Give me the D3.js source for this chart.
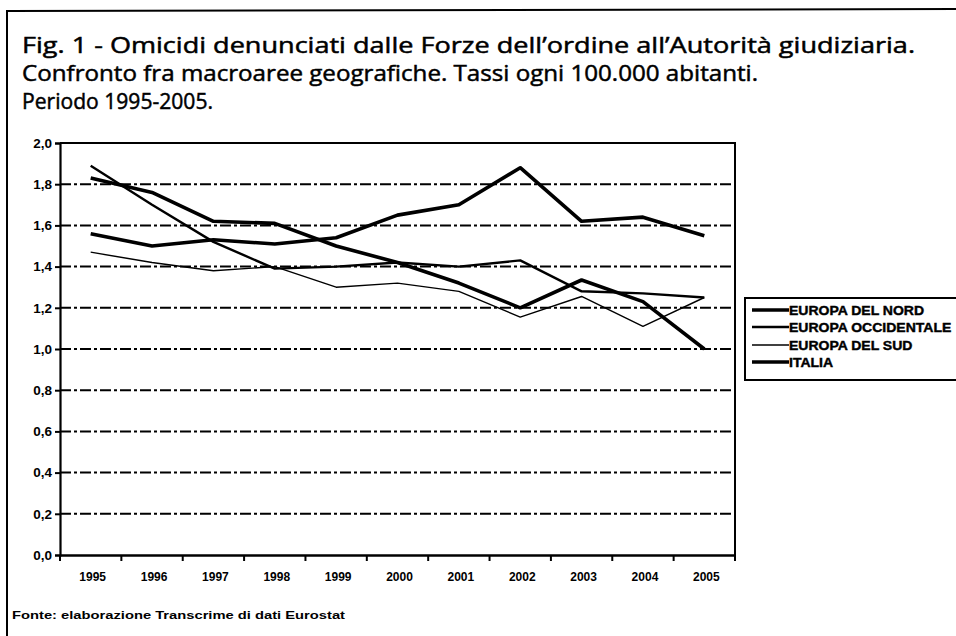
<!DOCTYPE html>
<html><head><meta charset="utf-8">
<script src="https://cdn.jsdelivr.net/npm/d3@7"></script>
<style>
html,body{margin:0;padding:0;background:#fff;}
svg{display:block;}
</style></head>
<body>
<svg id="c" width="956" height="636"></svg>
<script>
const titleLines = [
  "Fig. 1 - Omicidi denunciati dalle Forze dell\u2019ordine all\u2019Autorità giudiziaria.",
  "Confronto fra macroaree geografiche. Tassi ogni 100.000 abitanti.",
  "Periodo 1995-2005."
];
const sourceText = "Fonte: elaborazione Transcrime di dati Eurostat";
const years = ["1995","1996","1997","1998","1999","2000","2001","2002","2003","2004","2005"];
const yTicks = [0,0.2,0.4,0.6,0.8,1.0,1.2,1.4,1.6,1.8,2.0];
const seriesNames = ["EUROPA DEL NORD","EUROPA OCCIDENTALE","EUROPA DEL SUD","ITALIA"];
const nord        = [1.56,1.50,1.53,1.51,1.54,1.65,1.70,1.88,1.62,1.64,1.55];
const occidentale = [1.89,1.70,1.52,1.39,1.40,1.42,1.40,1.43,1.28,1.27,1.25];
const sud         = [1.47,1.42,1.38,1.40,1.30,1.32,1.28,1.155,1.255,1.11,1.25];
const italia      = [1.83,1.76,1.62,1.61,1.50,1.42,1.32,1.20,1.335,1.23,1.00];
const seriesValues = [nord, occidentale, sud, italia];
const seriesWidths = [3.6, 2.4, 1.4, 3.6];

const svg = d3.select("#c");
const font = "'Open Sans', 'Noto Sans', sans-serif";
const boldFont = "'Liberation Sans', Arial, sans-serif";

// outer frame (scan border)
svg.append("path").attr("d","M7,636 L7,11 L956,9").attr("fill","none")
  .attr("stroke","#000").attr("stroke-width",2);

// title
const tW = [893, 736, 191];
titleLines.forEach((t,i)=>{
  svg.append("text").attr("x",22).attr("y",53+i*28)
    .attr("font-family",font).attr("font-size",22.5).attr("fill","#000")
    .attr("stroke","#000").attr("stroke-width",0.5)
    .attr("textLength",tW[i]).attr("lengthAdjust","spacingAndGlyphs")
    .text(t);
});

const pL=60, pR=735, pT=143, pB=555;
const x = d3.scaleBand().domain(years).range([pL,pR]).padding(0);
const y = d3.scaleLinear().domain([0,2]).range([pB,pT]);
const cx = d => x(d)+x.bandwidth()/2;

// grid lines
svg.append("g").selectAll("line").data(yTicks.filter(v=>v>0 && v<2)).join("line")
  .attr("x1",pL).attr("x2",pR).attr("y1",d=>y(d)).attr("y2",d=>y(d))
  .attr("stroke","#000").attr("stroke-width",2).attr("stroke-dasharray","11,3,3,3");

// plot frame top and right
svg.append("path").attr("d",`M${pL},${pT} L${pR},${pT} L${pR},${pB}`)
  .attr("fill","none").attr("stroke","#000").attr("stroke-width",2);

// y axis
const yAxis = d3.axisLeft(y).tickValues(yTicks).tickSize(5).tickPadding(3)
  .tickFormat(d=>d3.format(".1f")(d).replace(".",","));
const gy = svg.append("g").attr("transform",`translate(${pL},0)`).call(yAxis);
gy.select(".domain").attr("stroke","#000").attr("stroke-width",2.2);
gy.selectAll(".tick line").attr("stroke","#000").attr("stroke-width",2);
gy.selectAll(".tick text").attr("font-family",boldFont)
  .attr("font-weight","bold").attr("font-size",13.5).attr("fill","#000");

// x axis
const xAxis = d3.axisBottom(x).tickSize(0).tickPadding(17);
const gx = svg.append("g").attr("transform",`translate(0,${pB})`).call(xAxis);
gx.select(".domain").attr("stroke","#000").attr("stroke-width",2.6);
gx.selectAll(".tick text").attr("font-family",boldFont)
  .attr("font-weight","bold").attr("font-size",12).attr("fill","#000")
  .attr("dx",2);
// boundary ticks
const bounds = years.map(d=>x(d)).concat([pR]);
svg.append("g").selectAll("line").data(bounds).join("line")
  .attr("x1",d=>d).attr("x2",d=>d).attr("y1",pB).attr("y2",pB+6)
  .attr("stroke","#000").attr("stroke-width",2);

// lines
const line = d3.line().x((d,i)=>cx(years[i])).y(d=>y(d));
seriesValues.forEach((vals,k)=>{
  svg.append("path").datum(vals).attr("d",line).attr("fill","none")
    .attr("stroke","#000").attr("stroke-width",seriesWidths[k])
    .attr("stroke-linejoin","round").attr("stroke-linecap","butt");
});

// legend
const lg = svg.append("g");
lg.append("path").attr("d","M956,298 L745,298 L745,380 L956,380").attr("fill","none")
  .attr("stroke","#000").attr("stroke-width",2);
const lys = [310,327,345,362];
seriesNames.forEach((n,k)=>{
  lg.append("line").attr("x1",752).attr("x2",789).attr("y1",lys[k]).attr("y2",lys[k])
    .attr("stroke","#000").attr("stroke-width",seriesWidths[k]);
  const t = lg.append("text").attr("x",789).attr("y",lys[k]+4.5)
    .attr("font-family",boldFont).attr("font-weight","bold")
    .attr("font-size",12.5).attr("fill","#000")
    .attr("stroke","#000").attr("stroke-width",0.4).text(n);
  const w = t.node().getComputedTextLength();
  t.attr("textLength", w*1.12).attr("lengthAdjust","spacingAndGlyphs");
});

// source
svg.append("text").attr("x",12).attr("y",619)
  .attr("font-family",boldFont).attr("font-weight","bold")
  .attr("font-size",11.5).attr("fill","#000")
  .attr("textLength",333).attr("lengthAdjust","spacingAndGlyphs").text(sourceText);
</script>
</body></html>
